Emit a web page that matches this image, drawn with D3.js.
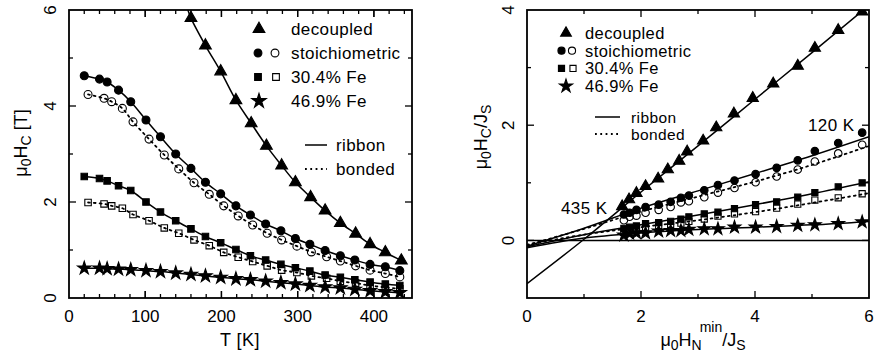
<!DOCTYPE html>
<html><head><meta charset="utf-8">
<script src="https://cdn.jsdelivr.net/npm/d3@7/dist/d3.min.js"></script>
<style>body{margin:0;background:#fff}svg text{font-family:"Liberation Sans",Arial,sans-serif;fill:#000}</style>
</head><body><svg id="c" width="875" height="355"></svg>
<script>
// ---------- Left panel data: T [K] vs mu0Hc [T] ----------
const decT   = [160,179,199,219,239,259,279,297,317,336,356,376,395,415,436];
const decHc  = [5.83,5.26,4.72,4.12,3.64,3.17,2.76,2.41,2.10,1.82,1.56,1.34,1.12,0.95,0.78];
const decFitT  = [156,160];
const decFitHc = [6.0,5.83];
const fillT  = [20,40,50,65,81,101,120,140,160,179,199,219,238,258,278,297,316,336,356,375,395,415,434];
const openT  = [25,46,56,70,84,105,125,144,164,184,203,222,241,260,279,299,318,338,356,376,395,415,434];
const stoFill= [4.63,4.56,4.50,4.33,4.09,3.71,3.36,3.00,2.70,2.41,2.17,1.92,1.73,1.54,1.40,1.24,1.12,0.99,0.88,0.79,0.70,0.65,0.57];
const stoOpen= [4.24,4.16,4.09,3.95,3.67,3.31,2.98,2.69,2.40,2.16,1.92,1.71,1.52,1.35,1.21,1.08,0.96,0.86,0.77,0.67,0.58,0.51,0.44];
const fe30Fill=[2.53,2.49,2.44,2.34,2.24,2.00,1.79,1.61,1.44,1.28,1.15,1.01,0.88,0.79,0.70,0.63,0.56,0.48,0.43,0.38,0.33,0.29,0.26];
const fe30Open=[1.99,1.96,1.92,1.87,1.74,1.61,1.46,1.35,1.21,1.09,0.95,0.85,0.76,0.67,0.58,0.53,0.46,0.41,0.35,0.31,0.26,0.22,0.19];
const fe47   = [0.62,0.62,0.61,0.60,0.59,0.57,0.55,0.52,0.49,0.46,0.43,0.40,0.38,0.35,0.32,0.29,0.26,0.23,0.21,0.18,0.15,0.13,0.11];

// ---------- Right panel data: mu0HN^min/Js vs mu0Hc/Js ----------
const rDecX = [1.67,1.79,1.92,2.08,2.30,2.47,2.67,2.81,3.09,3.32,3.63,3.96,4.32,4.75,5.05,5.46,5.88];
const rDecY = [0.59,0.71,0.82,0.94,1.07,1.23,1.38,1.54,1.73,1.96,2.20,2.47,2.72,3.03,3.34,3.65,3.97];
const rX    = [1.70,1.80,1.92,2.08,2.31,2.52,2.70,2.84,3.11,3.35,3.64,4.01,4.38,4.75,5.05,5.46,5.88];
const rStoFill=[0.45,0.48,0.53,0.58,0.62,0.67,0.74,0.78,0.87,0.96,1.04,1.15,1.26,1.39,1.55,1.69,1.87];
const rStoOpen=[0.35,0.41,0.43,0.48,0.53,0.58,0.66,0.68,0.75,0.83,0.91,1.01,1.11,1.23,1.37,1.51,1.66];
const rFe30Fill=[0.21,0.23,0.25,0.29,0.31,0.33,0.37,0.41,0.46,0.49,0.55,0.62,0.67,0.75,0.83,0.93,1.00];
const rFe30Open=[0.14,0.17,0.20,0.23,0.26,0.28,0.30,0.33,0.37,0.42,0.46,0.50,0.56,0.63,0.70,0.74,0.81];
const rFe47 = [0.09,0.12,0.13,0.13,0.16,0.17,0.17,0.19,0.20,0.20,0.23,0.23,0.24,0.26,0.27,0.29,0.32];
// fit lines
const fitX = [0,1,2,3,4,5,6];
const fitDec     = [-0.75,0.02,0.84,1.64,2.45,3.26,4.08];
const fitStoFill = [-0.10,0.21,0.56,0.86,1.16,1.47,1.80];
const fitStoOpen = [-0.08,0.20,0.50,0.76,1.02,1.31,1.64];
const fitFe30Fill= [-0.11,0.10,0.27,0.44,0.62,0.81,1.02];
const fitFe30Open= [-0.08,0.10,0.23,0.35,0.49,0.65,0.82];
const fitFe47    = [-0.13,0.04,0.13,0.19,0.23,0.27,0.33];

const legendNames = ["decoupled","stoichiometric","30.4% Fe","46.9% Fe"];
const lineNames = ["ribbon","bonded"];
const leftXTicks=[0,100,200,300,400], leftYTicks=[0,2,4,6];
const rightXTicks=[0,2,4,6], rightYTicks=[0,2,4];

const svg=d3.select("#c");
const FS=17;

function sym(g,type,x,y,size,filled){
  g.append("path").attr("d",d3.symbol().type(type).size(size)())
   .attr("transform",`translate(${x},${y})`)
   .attr("fill",filled?"#000":"none").attr("stroke","#000").attr("stroke-width",1.1);
}
function frame(g,x,y){
  const [x0,x1]=x.range(), [y1,y0]=y.range();
  g.append("rect").attr("x",x0).attr("y",y0).attr("width",x1-x0).attr("height",y1-y0)
   .attr("fill","none").attr("stroke","#000").attr("stroke-width",1.8);
}
function ticks(g,x,y,xMinor,xMajor,yMinor,yMajor){
  const [x0,x1]=x.range(), [y1,y0]=y.range();
  xMinor.forEach(v=>{const L=xMajor.includes(v)?7:4;const px=x(v);
    g.append("line").attr("x1",px).attr("x2",px).attr("y1",y1).attr("y2",y1-L).attr("stroke","#000").attr("stroke-width",1.3);
    g.append("line").attr("x1",px).attr("x2",px).attr("y1",y0).attr("y2",y0+L).attr("stroke","#000").attr("stroke-width",1.3);});
  yMinor.forEach(v=>{const L=yMajor.includes(v)?7:4;const py=y(v);
    g.append("line").attr("x1",x0).attr("x2",x0+L).attr("y1",py).attr("y2",py).attr("stroke","#000").attr("stroke-width",1.3);
    g.append("line").attr("x1",x1).attr("x2",x1-L).attr("y1",py).attr("y2",py).attr("stroke","#000").attr("stroke-width",1.3);});
}
function tickLabels(g,x,y,xt,yt,ylx){
  const y1=y.range()[0];
  xt.forEach(v=>g.append("text").attr("x",x(v)).attr("y",y1+24).attr("text-anchor","middle").attr("font-size",FS).text(v));
  yt.forEach(v=>g.append("text").attr("transform",`translate(${ylx},${y(v)}) rotate(-90)`).attr("text-anchor","middle").attr("font-size",FS).text(v));
}
function ylabel(g,cx,cy,parts){
  const t=g.append("text").attr("transform",`translate(${cx},${cy}) rotate(-90)`).attr("text-anchor","middle").attr("font-size",FS+1);
  parts.forEach(p=>{const s=t.append("tspan").text(p[0]);
    if(p[1]==="sub") s.attr("baseline-shift","-25%").attr("font-size",FS-3);
    if(p[1]==="sup") s.attr("baseline-shift","45%").attr("font-size",FS-3);});
}
function legend(g,x0,y0,dy,symX,sizes,fs){
  legendNames.forEach((n,i)=>{
    const yy=y0+i*dy;
    g.append("text").attr("x",x0).attr("y",yy+6).attr("font-size",fs).attr("letter-spacing",0.4).text(n);
  });
  sym(g,d3.symbolTriangle,symX[0],y0,sizes,true);
  sym(g,d3.symbolCircle,symX[1],y0+dy,sizes*0.8,true);
  sym(g,d3.symbolCircle,symX[2],y0+dy,sizes*0.8,false);
  sym(g,d3.symbolSquare,symX[1],y0+2*dy,sizes*0.75,true);
  sym(g,d3.symbolSquare,symX[2]+1,y0+2*dy,sizes*0.75,false);
  sym(g,d3.symbolStar,symX[0],y0+3*dy,sizes*1.1,true);
}
function lineLegend(g,lx0,lx1,tx,y0,dy,fs){
  g.append("line").attr("x1",lx0).attr("x2",lx1).attr("y1",y0).attr("y2",y0).attr("stroke","#000").attr("stroke-width",1.5);
  g.append("line").attr("x1",lx0).attr("x2",lx1).attr("y1",y0+dy).attr("y2",y0+dy).attr("stroke","#000").attr("stroke-width",1.8).attr("stroke-dasharray","1.8,3.5");
  g.append("text").attr("x",tx).attr("y",y0+6).attr("font-size",fs).attr("letter-spacing",0.4).text(lineNames[0]);
  g.append("text").attr("x",tx).attr("y",y0+dy+6).attr("font-size",fs).attr("letter-spacing",0.4).text(lineNames[1]);
}

// ================= LEFT =================
const xL=d3.scaleLinear().domain([0,450]).range([69,412]);
const yL=d3.scaleLinear().domain([0,6]).range([298,10]);
const gL=svg.append("g");
svg.append("clipPath").attr("id","clipL").append("rect").attr("x",69).attr("y",10).attr("width",343).attr("height",288);
const pL=gL.append("g").attr("clip-path","url(#clipL)");
const lineL=d3.line().x(d=>xL(d[0])).y(d=>yL(d[1])).curve(d3.curveCatmullRom);
const zip=(a,b)=>a.map((v,i)=>[v,b[i]]);
function drawLine(g,gen,data,dotted){
  g.append("path").attr("d",gen(data)).attr("fill","none").attr("stroke","#000")
   .attr("stroke-width",dotted?1.8:1.5).attr("stroke-dasharray",dotted?"1.8,4":null).attr("stroke-linecap",dotted?"round":"butt");
}
drawLine(pL,lineL,zip(decFitT,decFitHc).concat(zip(decT,decHc).slice(1)),false);
drawLine(pL,lineL,zip(fillT,stoFill),false);
drawLine(pL,lineL,zip(openT,stoOpen),true);
drawLine(pL,lineL,zip(fillT,fe30Fill),false);
drawLine(pL,lineL,zip(openT,fe30Open),true);
drawLine(pL,lineL,zip(fillT,fe47),false);
decT.forEach((t,i)=>sym(pL,d3.symbolTriangle,xL(t),yL(decHc[i]),60,true));
openT.forEach((t,i)=>sym(pL,d3.symbolCircle,xL(t),yL(stoOpen[i]),50,false));
fillT.forEach((t,i)=>sym(pL,d3.symbolCircle,xL(t),yL(stoFill[i]),50,true));
openT.forEach((t,i)=>sym(pL,d3.symbolSquare,xL(t),yL(fe30Open[i]),42,false));
fillT.forEach((t,i)=>sym(pL,d3.symbolSquare,xL(t),yL(fe30Fill[i]),42,true));
fillT.forEach((t,i)=>sym(pL,d3.symbolStar,xL(t),yL(fe47[i]),55,true));
frame(gL,xL,yL);
ticks(gL,xL,yL,d3.range(20,450,20).concat([100,200,300,400]),[100,200,300,400],[1,2,3,4,5],[2,4]);
tickLabels(gL,xL,yL,leftXTicks,leftYTicks,56);
gL.append("text").attr("x",240).attr("y",346).attr("text-anchor","middle").attr("font-size",FS+1).attr("letter-spacing",0.5).text("T [K]");
ylabel(gL,27,143,[["μ"],["0","sub"],["H"],["C","sub"],[" [T]"]]);
legend(gL,291,29,24,[259,258,275],60,FS);
lineLegend(gL,305,327,336,145,24,FS);

// ================= RIGHT =================
const xR=d3.scaleLinear().domain([0,6]).range([527,869]);
const yR=d3.scaleLinear().domain([-1,4]).range([298,10]);
const gR=svg.append("g");
svg.append("clipPath").attr("id","clipR").append("rect").attr("x",527).attr("y",10).attr("width",342).attr("height",288);
const pR=gR.append("g").attr("clip-path","url(#clipR)");
const lineR=d3.line().x(d=>xR(d[0])).y(d=>yR(d[1])).curve(d3.curveMonotoneX);
pR.append("line").attr("x1",xR(0)).attr("x2",xR(6)).attr("y1",yR(0)).attr("y2",yR(0)).attr("stroke","#000").attr("stroke-width",1.5);
drawLine(pR,lineR,zip(fitX,fitDec),false);
drawLine(pR,lineR,zip(fitX,fitStoFill),false);
drawLine(pR,lineR,zip(fitX,fitStoOpen),true);
drawLine(pR,lineR,zip(fitX,fitFe30Fill),false);
drawLine(pR,lineR,zip(fitX,fitFe30Open),true);
drawLine(pR,lineR,zip(fitX,fitFe47),false);
rDecX.forEach((v,i)=>sym(pR,d3.symbolTriangle,xR(v),yR(rDecY[i]),55,true));
rX.forEach((v,i)=>sym(pR,d3.symbolCircle,xR(v),yR(rStoOpen[i]),45,false));
rX.forEach((v,i)=>sym(pR,d3.symbolCircle,xR(v),yR(rStoFill[i]),45,true));
rX.forEach((v,i)=>sym(pR,d3.symbolSquare,xR(v),yR(rFe30Open[i]),38,false));
rX.forEach((v,i)=>sym(pR,d3.symbolSquare,xR(v),yR(rFe30Fill[i]),38,true));
rX.forEach((v,i)=>sym(pR,d3.symbolStar,xR(v),yR(rFe47[i]),50,true));
frame(gR,xR,yR);
ticks(gR,xR,yR,[1,2,3,4,5],[2,4],[0,1,2,3],[0,2]);
tickLabels(gR,xR,yR,rightXTicks,rightYTicks,514);
const xt=gR.append("text").attr("x",703).attr("y",346).attr("text-anchor","middle").attr("font-size",FS+1);
xt.append("tspan").text("μ");xt.append("tspan").text("0").attr("baseline-shift","-25%").attr("font-size",FS-3);
xt.append("tspan").text("H");
xt.append("tspan").text("N").attr("baseline-shift","-25%").attr("font-size",FS-3);
xt.append("tspan").text("min").attr("dy",-14).attr("dx",-2).attr("font-size",FS-3);
xt.append("tspan").text("/J").attr("dy",14);
xt.append("tspan").text("S").attr("baseline-shift","-25%").attr("font-size",FS-3);
ylabel(gR,487,137,[["μ"],["0","sub"],["H"],["C","sub"],["/J"],["S","sub"]]);
legend(gR,585,33,17.7,[566,561.5,572],50,16.5);
lineLegend(gR,595,620,631,117,17,15.5);
gR.append("text").attr("x",808).attr("y",131).attr("font-size",FS).attr("letter-spacing",0.4).text("120 K");
gR.append("text").attr("x",561).attr("y",214).attr("font-size",FS).attr("letter-spacing",0.4).text("435 K");
</script></body></html>
